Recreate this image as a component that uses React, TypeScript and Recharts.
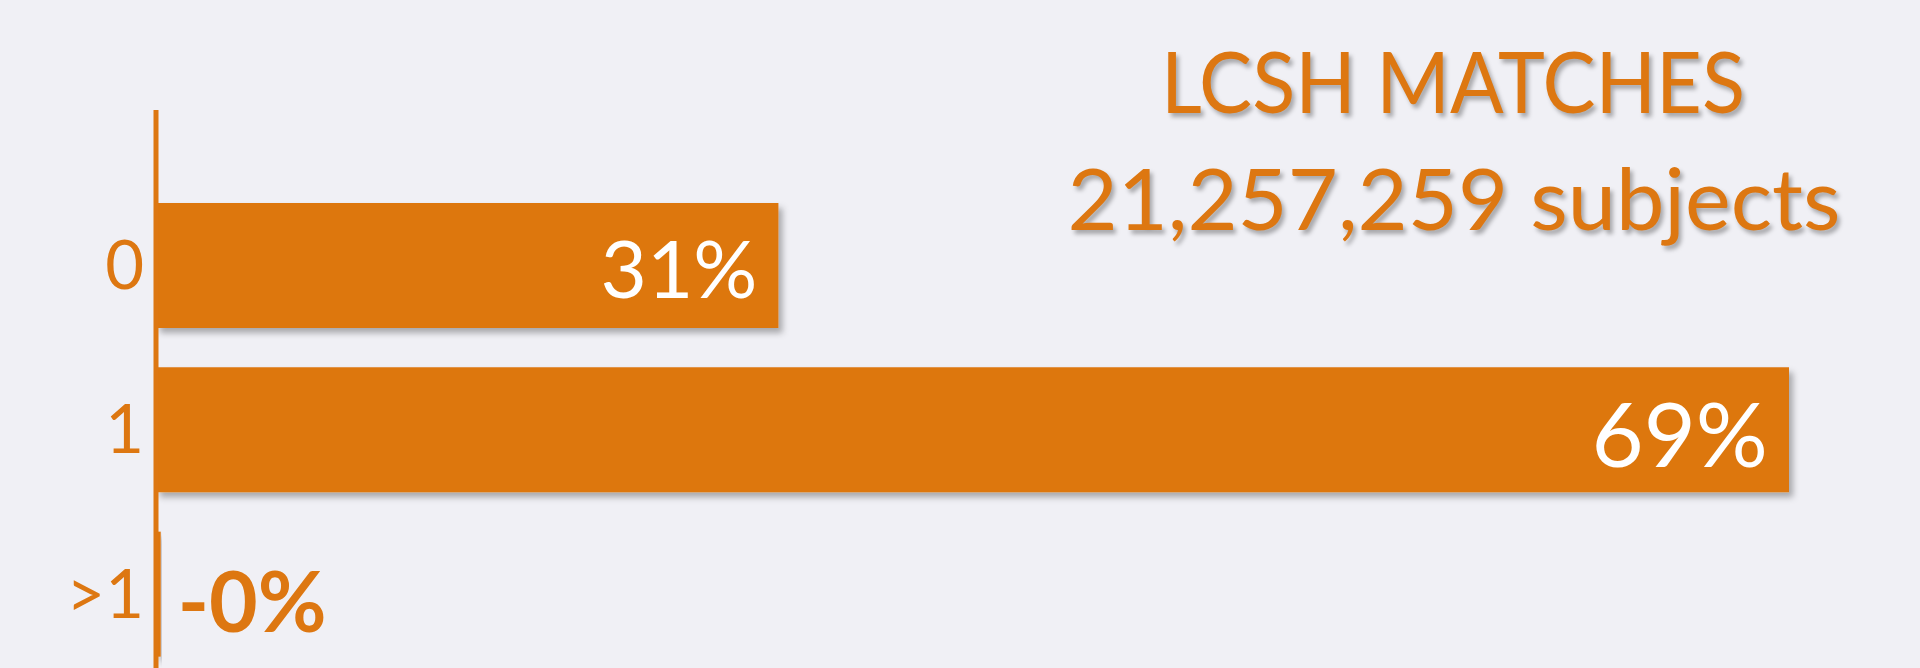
import React from "react";
import { BarChart, Bar, XAxis, YAxis, LabelList } from "recharts";

const categories = ["0", "1", ">1"];
// bar lengths (share of subjects, %)
const shares = [26.3, 69, 0.2];
const shareLabels = ["31%", "69%", "-0%"];
const titleLines = ["LCSH MATCHES", "21,257,259 subjects"];

const ORANGE = "#DD7711";
const BG = "#F0F0F5";
const FONT = "Lato, 'Open Sans', sans-serif";

const data = categories.map((name, i) => ({
  name,
  value: shares[i],
  label: shareLabels[i],
}));

function ShareLabel(props: any) {
  const { x, y, width, height, index } = props;
  const text = shareLabels[index];
  const cy = y + height / 2;
  if (index === 2) {
    return (
      <text
        x={x + width + 17}
        y={cy + 38}
        fill={ORANGE}
        fontSize={84}
        fontWeight={700}
        fontFamily={FONT}
      >
        {text}
      </text>
    );
  }
  const size = index === 0 ? 80 : 90;
  return (
    <text
      x={x + width - 21}
      y={cy + (index === 0 ? 32 : 37)}
      fill="#FFFFFF"
      fontSize={size}
      fontFamily={FONT}
      textAnchor="end"
    >
      {text}
    </text>
  );
}

export default function App() {
  return (
    <div
      style={{
        position: "absolute",
        left: 0,
        top: 0,
        width: 1920,
        height: 668,
        overflow: "hidden",
        background: BG,
      }}
    >
      <BarChart
        width={1920}
        height={700}
        data={data}
        layout="vertical"
        margin={{ top: 110, right: 131, bottom: 24, left: 0 }}
      >
        <defs>
          <filter id="shadow" x="-5%" y="-10%" width="120%" height="130%">
            <feDropShadow dx="4" dy="5" stdDeviation="3" floodColor="#000" floodOpacity="0.3" />
          </filter>
        </defs>
        <XAxis type="number" domain={[0, "dataMax"]} hide />
        <YAxis
          dataKey="name"
          type="category"
          width={156}
          padding={{ top: 73, bottom: 0 }}
          tickLine={false}
          tickMargin={6}
          axisLine={{ stroke: ORANGE, strokeWidth: 5 }}
          tick={{ fill: ORANGE, fontSize: 67, fontFamily: FONT }}
        />
        <Bar
          dataKey="value"
          fill={ORANGE}
          barSize={125}
          filter="url(#shadow)"
          isAnimationActive={false}
        >
          <LabelList dataKey="label" content={<ShareLabel />} />
        </Bar>
      </BarChart>
      <svg
        width={1920}
        height={668}
        style={{ position: "absolute", left: 0, top: 0, pointerEvents: "none" }}
      >
        <g
          fill={ORANGE}
          fontFamily={FONT}
          textAnchor="middle"
          style={{ filter: "drop-shadow(3px 4px 2px rgba(0,0,0,0.3))" }}
        >
          <text x={1453} y={113} fontSize={86} textLength={584} lengthAdjust="spacingAndGlyphs">
            {titleLines[0]}
          </text>
          <text x={1454} y={230} fontSize={85} textLength={773} lengthAdjust="spacingAndGlyphs">
            {titleLines[1]}
          </text>
        </g>
      </svg>
    </div>
  );
}
